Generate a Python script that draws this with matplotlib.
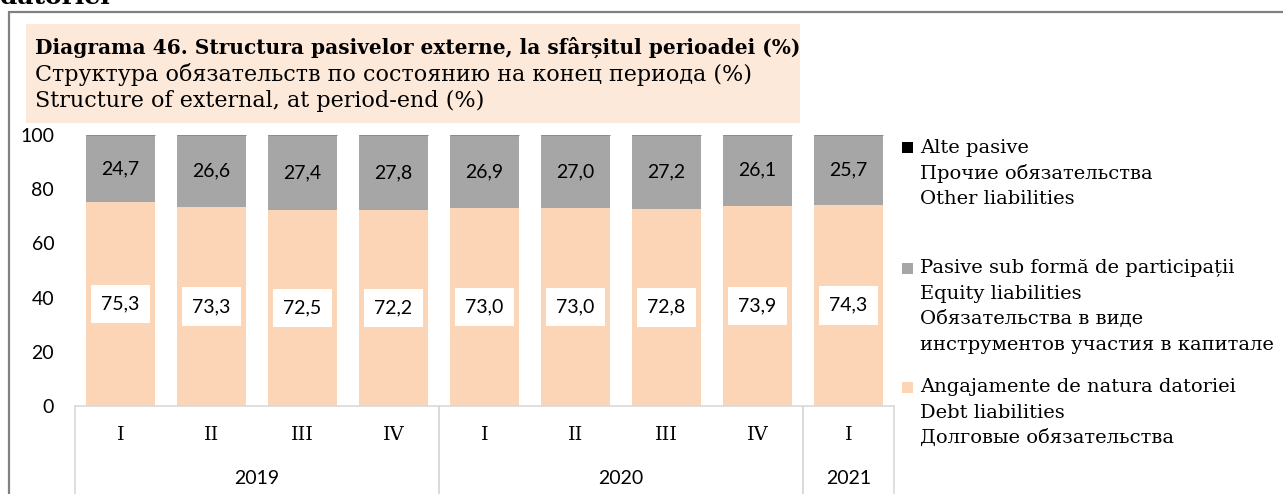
import matplotlib.pyplot as plt
import matplotlib.transforms as mtransforms
from matplotlib.patches import Rectangle

# data
quarters = ["I", "II", "III", "IV", "I", "II", "III", "IV", "I"]
years = ["2019", "2020", "2021"]
year_spans = [(0, 3), (4, 7), (8, 8)]
debt = [75.3, 73.3, 72.5, 72.2, 73.0, 73.0, 72.8, 73.9, 74.3]
equity = [24.7, 26.6, 27.4, 27.8, 26.9, 27.0, 27.2, 26.1, 25.7]
other = [0.0, 0.0, 0.0, 0.0, 0.0, 0.0, 0.0, 0.0, 0.0]

title_lines = [
    "Diagrama 46. Structura pasivelor externe, la sfârșitul perioadei (%)",
    "Структура обязательств по состоянию на конец периода (%)",
    "Structure of external, at period-end (%)",
]
legend_entries = [
    ("#000000", ["Alte pasive", "Прочие обязательства", "Other liabilities"]),
    ("#A6A6A6", ["Pasive sub formă de participații", "Equity liabilities",
                 "Обязательства в виде", "инструментов участия в капитале"]),
    ("#FBD5B5", ["Angajamente de natura datoriei", "Debt liabilities",
                 "Долговые обязательства"]),
]

DEBT_COLOR = "#FBD5B5"
EQUITY_COLOR = "#A6A6A6"
SERIF = "DejaVu Serif"
SANS = "Lato"

W, H = 1283, 494
fig = plt.figure(figsize=(W / 100, H / 100), dpi=100)


def fx(px):
    return px / W


def fy(py):
    return 1 - py / H


# outer frame and cut-off heading above it
fig.patches.append(Rectangle((fx(9), -0.1), 1.2, fy(12) + 0.1, transform=fig.transFigure,
                             fill=False, edgecolor="#808080", linewidth=1.6))
fig.text(fx(0), fy(4), "datoriei", fontsize=18, fontweight="bold", family=SERIF,
         va="baseline", ha="left")

# title box
fig.patches.append(Rectangle((fx(26), fy(123)), fx(800 - 26), (123 - 24) / H,
                             transform=fig.transFigure, facecolor="#FDE9D9",
                             edgecolor="none"))
for i, line in enumerate(title_lines):
    bold = i == 0
    fig.text(fx(35), fy(47 + 27 * i), line, fontsize=14.5 if bold else 16,
             family=SERIF, fontweight="bold" if bold else "normal",
             va="center", ha="left")

ax = fig.add_axes([fx(75), fy(406), fx(894 - 75), (406 - 135) / H])
x = list(range(len(quarters)))
ax.bar(x, debt, width=0.76, color=DEBT_COLOR, zorder=2)
ax.bar(x, equity, width=0.76, bottom=debt, color=EQUITY_COLOR, zorder=2)
tops = [d + e for d, e in zip(debt, equity)]
ax.bar(x, other, width=0.76, bottom=tops, color="#000000",
       edgecolor="#8C8C8C", linewidth=0.8, zorder=2)

for xi, d, e in zip(x, debt, equity):
    ax.text(xi, d / 2, f"{d:.1f}".replace(".", ","), ha="center", va="center",
            fontsize=14, family=SANS, zorder=3,
            bbox=dict(boxstyle="square,pad=0.55", facecolor="white", edgecolor="none"))
    ax.text(xi, d + e / 2, f"{e:.1f}".replace(".", ","), ha="center", va="center",
            fontsize=14, family=SANS, zorder=3)

ax.set_xlim(-0.5, len(quarters) - 0.5)
ax.set_ylim(0, 100)
ax.set_yticks(range(0, 101, 20))
ax.tick_params(axis="y", length=0, pad=15, labelsize=14)
for lab in ax.get_yticklabels():
    lab.set_family(SANS)
ax.set_xticks([])
for side in ["top", "right", "left"]:
    ax.spines[side].set_visible(False)
ax.spines["bottom"].set_color("#D9D9D9")
ax.spines["bottom"].set_linewidth(1.2)

# two-level category axis
trans = mtransforms.blended_transform_factory(ax.transData, ax.transAxes)
px_to_ax = 1 / (406 - 135)
for xi, q in zip(x, quarters):
    ax.text(xi, -29 * px_to_ax, q, transform=trans, ha="center", va="center",
            fontsize=14, family=SERIF)
for name, (a, b) in zip(years, year_spans):
    ax.text((a + b) / 2, -72 * px_to_ax, name, transform=trans, ha="center",
            va="center", fontsize=14, family=SANS)
    for edge in (a - 0.5, b + 0.5):
        ax.plot([edge, edge], [0, -0.4], transform=trans, color="#D9D9D9",
                linewidth=1.2, clip_on=False)

# legend drawn by hand, lines stacked under each marker
entry_tops = [148, 268, 387]
for (color, lines), top in zip(legend_entries, entry_tops):
    fig.patches.append(Rectangle((fx(902), fy(top + 5.5)), fx(11), 11 / H,
                                 transform=fig.transFigure, facecolor=color,
                                 edgecolor="none"))
    for j, line in enumerate(lines):
        fig.text(fx(920), fy(top + 25.5 * j), line, fontsize=14, family=SERIF,
                 va="center", ha="left")

fig.savefig("out.png", dpi=100)
